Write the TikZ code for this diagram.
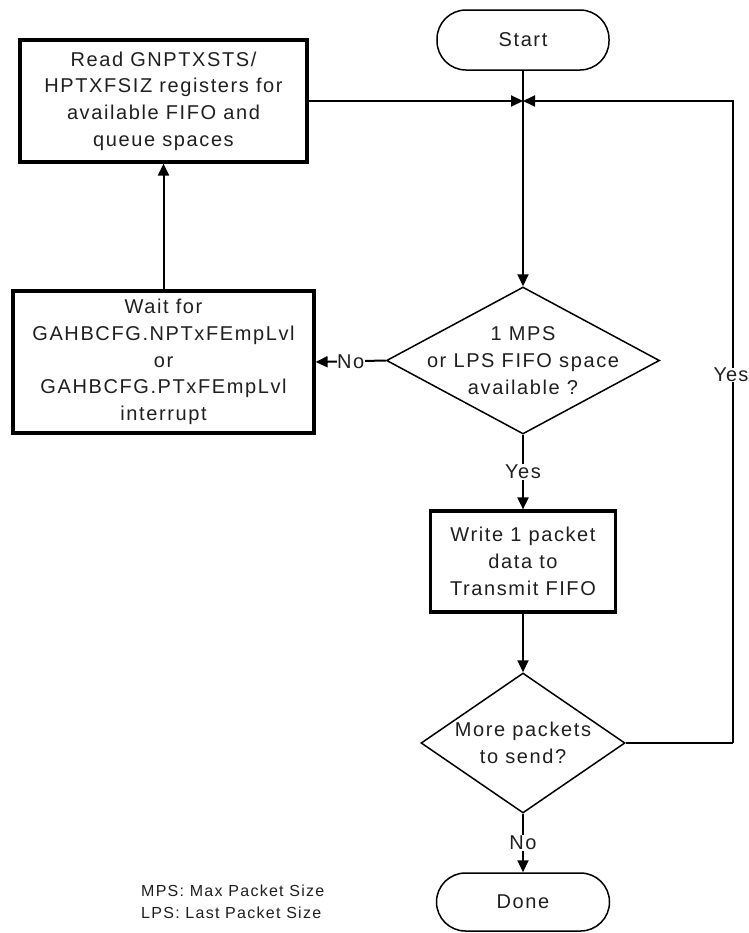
\documentclass[tikz,border=0pt]{standalone}
\usepackage{fontspec}
\setmainfont{Liberation Sans}
\newfontfamily\flowfont{Liberation Sans}[LetterSpace=8]
\usetikzlibrary{arrows.meta,shapes.geometric}

\tikzset{
  flowtext/.style={font=\flowfont\fontsize{20bp}{26.7bp}\selectfont, text=black!88, align=center},
  procbox/.style={draw, line width=3.2bp, rectangle, inner sep=0pt, flowtext},
  terminal/.style={draw, line width=1.5bp, rectangle, rounded corners=29bp, inner sep=0pt, flowtext},
  decision/.style={draw, line width=1.5bp, diamond, inner sep=0pt},
  flow/.style={line width=2bp, -{Triangle[length=12bp,width=11bp]}},
  thinline/.style={line width=1.3bp},
  edgelabel/.style={flowtext, fill=white, inner sep=1bp},
}

\begin{document}
\begin{tikzpicture}[x=1bp, y=-1bp]
  \useasboundingbox (0,0) rectangle (749,933);

  % steps of the transmit flow
  \node[terminal, minimum width=172bp, minimum height=60bp] (start) at (523,40) {Start};
  \node[procbox, minimum width=287bp, minimum height=122bp] (read) at (163.5,101)
    {Read GNPTXSTS/\\HPTXFSIZ registers for\\available FIFO and\\queue spaces};
  \node[procbox, minimum width=301bp, minimum height=142bp] (wait) at (163.5,362)
    {Wait for\\GAHBCFG.NPTxFEmpLvl\\or\\GAHBCFG.PTxFEmpLvl\\interrupt};
  \node[decision, minimum width=273bp, minimum height=147bp] (space) at (523,360.5) {};
  \node[flowtext] (spacetext) at (space) {1 MPS\\or LPS FIFO space\\available ?};
  \node[procbox, minimum width=185bp, minimum height=101bp] (write) at (523,561.5)
    {Write 1 packet\\data to\\Transmit FIFO};
  \node[decision, minimum width=204bp, minimum height=140bp] (more) at (523,743) {};
  \node[flowtext] (moretext) at (more) {More packets\\to send?};
  \node[terminal, minimum width=173bp, minimum height=58bp] (done) at (523,902) {Done};

  % merge point and loop-back corners
  \coordinate (join) at (523,101);
  \coordinate (loopbot) at (733,743);
  \coordinate (looptop) at (733,101);

  % connectors
  \draw[line width=2bp] (start.south) -- (join);
  \draw[flow] (join) -- (space.north);
  \draw[flow] (read.east) -- (join);
  \draw[thinline] (more.east) -- (loopbot);
  \draw[flow] (loopbot) -- node[edgelabel, pos=0.573, inner sep=0pt, xshift=-2bp,
      font=\flowfont\fontsize{20bp}{26.7bp}\selectfont\addfontfeature{LetterSpace=5}] (yesloop) {Yes}
    (looptop) -- (join);
  \draw[flow] (space.west) -- node[edgelabel, pos=0.5, inner sep=0.5bp] (nolabel) {No} (wait.east);
  \draw[flow] (wait.north) -- (read.south);
  \draw[flow] (space.south) -- node[edgelabel, pos=0.5] (yeslabel) {Yes} (write.north);
  \draw[flow] (write.south) -- (more.north);
  \draw[flow] (more.south) -- node[edgelabel, pos=0.5] (nodone) {No} (done.north);

  % abbreviations
  \node[anchor=west, align=left, text=black!88, inner sep=0pt,
        font=\flowfont\fontsize{16bp}{22bp}\selectfont] (legend) at (141,902)
    {MPS: Max Packet Size\\LPS: Last Packet Size};
\end{tikzpicture}
\end{document}
